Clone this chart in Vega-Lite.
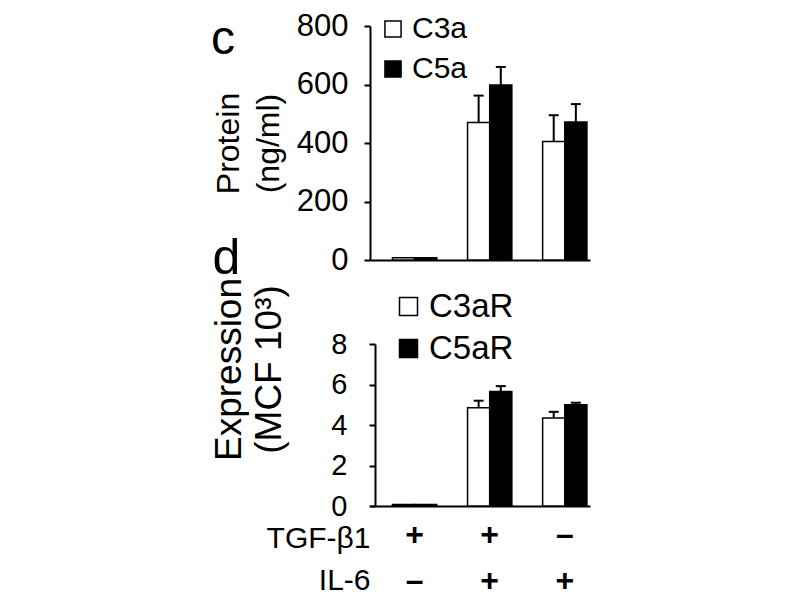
{
  "$schema": "https://vega.github.io/schema/vega-lite/v6.json",
  "background": "white",
  "padding": {"left": 210, "top": 10, "right": 5, "bottom": 5},
  "config": {
    "font": "Liberation Sans",
    "view": {"stroke": null},
    "axis": {"grid": false, "domainColor": "black", "domainWidth": 2, "tickColor": "black", "tickWidth": 2, "tickSize": 6, "labelFontSize": 31, "labelColor": "black", "titleFontSize": 32, "titleColor": "black", "titleFontWeight": "normal", "labelFont": "Liberation Sans", "titleFont": "Liberation Sans"},
    "legend": {"labelFontSize": 30, "labelColor": "black", "symbolType": "square", "symbolSize": 260, "symbolStrokeColor": "black", "symbolStrokeWidth": 1.5, "rowPadding": 10, "labelOffset": 4, "labelFont": "Liberation Sans"},
    "title": {"color": "black", "font": "Liberation Sans"}
  },
  "datasets": {
    "vals": [
      {"panel": "c", "cond": "+/–", "series": "C3a", "value": 8, "upper": 8},
      {"panel": "c", "cond": "+/–", "series": "C5a", "value": 8, "upper": 8},
      {"panel": "c", "cond": "+/+", "series": "C3a", "value": 470, "upper": 562},
      {"panel": "c", "cond": "+/+", "series": "C5a", "value": 598, "upper": 660},
      {"panel": "c", "cond": "–/+", "series": "C3a", "value": 405, "upper": 495},
      {"panel": "c", "cond": "–/+", "series": "C5a", "value": 472, "upper": 533},
      {"panel": "d", "cond": "+/–", "series": "C3aR", "value": 0.08, "upper": 0.08},
      {"panel": "d", "cond": "+/–", "series": "C5aR", "value": 0.08, "upper": 0.08},
      {"panel": "d", "cond": "+/+", "series": "C3aR", "value": 4.85, "upper": 5.2},
      {"panel": "d", "cond": "+/+", "series": "C5aR", "value": 5.65, "upper": 5.92},
      {"panel": "d", "cond": "–/+", "series": "C3aR", "value": 4.35, "upper": 4.65},
      {"panel": "d", "cond": "–/+", "series": "C5aR", "value": 5.0, "upper": 5.1}
    ]
  },
  "spacing": -6,
  "resolve": {"scale": {"fill": "independent", "xOffset": "independent", "x": "independent"}, "legend": {"fill": "independent"}},
  "vconcat": [
    {
      "width": 220,
      "height": 234,
      "title": {"text": "c", "fontSize": 48, "fontWeight": "normal", "anchor": "start", "frame": "group", "dx": -159, "dy": 58},
      "data": {"name": "vals"},
      "transform": [{"filter": "datum.panel === 'c'"}],
      "encoding": {
        "x": {
          "field": "cond", "type": "nominal", "sort": ["+/–", "+/+", "–/+"],
          "scale": {"paddingInner": 0.41, "paddingOuter": 0.17, "align": 0.88},
          "axis": {"labels": false, "ticks": false, "title": "d", "titleFontSize": 50, "titleX": -158, "titleY": 13, "titleAlign": "left", "titleBaseline": "alphabetic"}
        },
        "xOffset": {"field": "series", "type": "nominal", "sort": ["C3a", "C5a"], "scale": {"paddingInner": 0, "paddingOuter": 0}}
      },
      "layer": [
        {
          "mark": {"type": "bar", "stroke": "black", "strokeWidth": 1.5},
          "encoding": {
            "y": {"field": "value", "type": "quantitative", "scale": {"domain": [0, 800]},
              "axis": {"values": [0, 200, 400, 600, 800], "title": ["Protein", "(ng/ml)"], "titleLineHeight": 40, "labelPadding": 16, "titlePadding": 11}},
            "fill": {"field": "series", "type": "nominal", "scale": {"domain": ["C3a", "C5a"], "range": ["white", "black"]},
              "legend": {"orient": "none", "legendX": 8, "legendY": -12, "title": null}}
          }
        },
        {
          "transform": [{"filter": "datum.upper > datum.value"}],
          "mark": {"type": "rule", "color": "black", "strokeWidth": 2},
          "encoding": {"y": {"field": "value", "type": "quantitative"}, "y2": {"field": "upper"}}
        },
        {
          "transform": [{"filter": "datum.upper > datum.value"}],
          "mark": {"type": "tick", "color": "black", "thickness": 2, "size": 10, "opacity": 1},
          "encoding": {"y": {"field": "upper", "type": "quantitative"}}
        }
      ]
    },
    {
      "width": 220,
      "height": 162,
      "data": {"name": "vals"},
      "transform": [{"filter": "datum.panel === 'd'"}],
      "encoding": {
        "x": {
          "field": "cond", "type": "nominal", "sort": ["+/–", "+/+", "–/+"],
          "scale": {"paddingInner": 0.41, "paddingOuter": 0.17, "align": 0.88},
          "axis": {"ticks": false, "labelExpr": "split(datum.label, '/')", "labelFontSize": 32, "labelFontWeight": "bold", "labelLineHeight": 46, "labelPadding": 13, "labelAngle": 0,
            "title": ["TGF-β1", "IL-6"], "titleFontSize": 30, "titleX": 0, "titleY": 17, "titleAlign": "right", "titleBaseline": "top", "titleLineHeight": 42}
        },
        "xOffset": {"field": "series", "type": "nominal", "sort": ["C3aR", "C5aR"], "scale": {"paddingInner": 0, "paddingOuter": 0}}
      },
      "layer": [
        {
          "mark": {"type": "bar", "stroke": "black", "strokeWidth": 1.5},
          "encoding": {
            "y": {"field": "value", "type": "quantitative", "scale": {"domain": [0, 8]},
              "axis": {"values": [0, 2, 4, 6, 8], "offset": -5, "labelFontSize": 29, "title": ["Expression", "(MCF 10³)"], "titleFontSize": 37, "titleLineHeight": 40, "titleY": 25, "labelPadding": 22, "titlePadding": 42}},
            "fill": {"field": "series", "type": "nominal", "scale": {"domain": ["C3aR", "C5aR"], "range": ["white", "black"]},
              "legend": {"orient": "none", "legendX": 22, "legendY": -54, "title": null, "labelFontSize": 33, "symbolSize": 324, "rowPadding": 8}}
          }
        },
        {
          "transform": [{"filter": "datum.upper > datum.value"}],
          "mark": {"type": "rule", "color": "black", "strokeWidth": 2},
          "encoding": {"y": {"field": "value", "type": "quantitative"}, "y2": {"field": "upper"}}
        },
        {
          "transform": [{"filter": "datum.upper > datum.value"}],
          "mark": {"type": "tick", "color": "black", "thickness": 2, "size": 10, "opacity": 1},
          "encoding": {"y": {"field": "upper", "type": "quantitative"}}
        }
      ]
    }
  ]
}
